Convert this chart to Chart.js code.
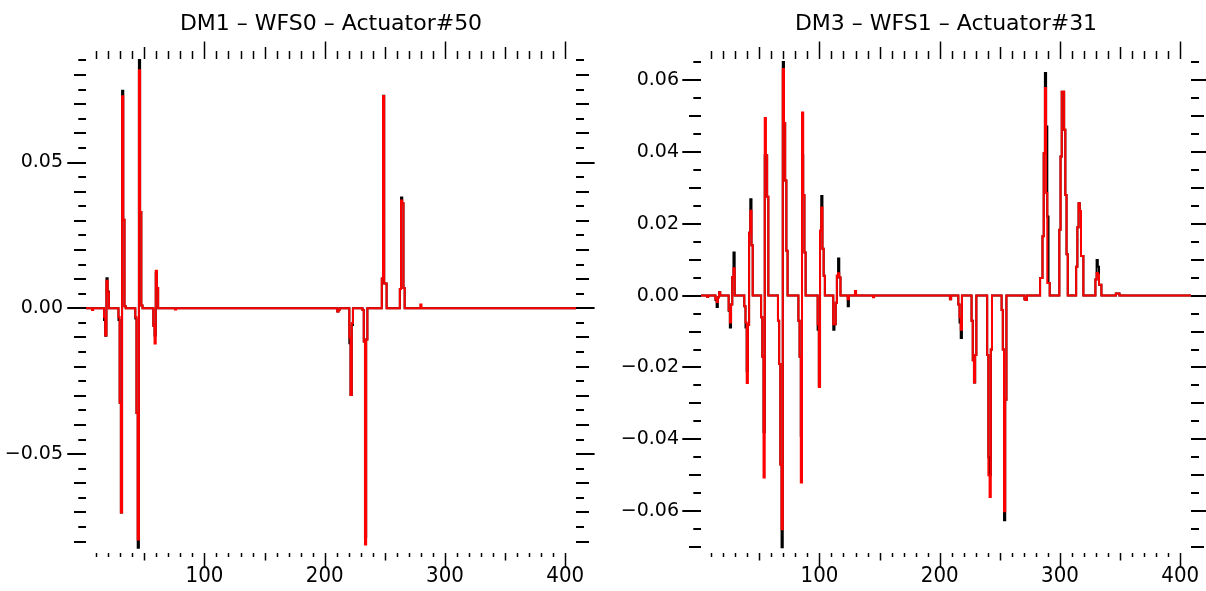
<!DOCTYPE html>
<html>
<head>
<meta charset="utf-8">
<script src="https://cdn.jsdelivr.net/npm/chart.js@4.4.1/dist/chart.umd.min.js"></script>
<style>
  html, body { margin: 0; padding: 0; background: #fff; }
  .panel { position: absolute; top: 0; width: 603px; height: 591px; }
</style>
</head>
<body>
<div class="panel" style="left:0"><canvas id="dm1" width="603" height="591"></canvas></div>
<div class="panel" style="left:603px"><canvas id="dm3" width="603" height="591"></canvas></div>
<script>
// actuator index range on the x axis
const X_FIRST = 1;
const X_LAST = 409;
const xLabelTicks = [100, 200, 300, 400];

// DM1 - WFS0 - Actuator#50 : samples that differ from zero
const dm1Index = [7, 17, 18, 19, 20, 29, 30, 31, 32, 33, 34, 43, 44, 45, 46, 47, 48, 58, 59, 60, 61, 76,
  211, 212, 221, 222, 223, 232, 233, 234, 235, 248, 249, 250, 251, 263, 264, 265, 266, 280];
const dm1Black = [0, -0.004, -0.0094, 0.0103, 0.0058, -0.004, -0.0324, -0.070, 0.0746, 0.0304, 0.0007,
  -0.0035, -0.0359, -0.0821, 0.0853, 0.0330, 0.0010, -0.006, -0.0093, 0.0122, 0.0070, 0,
  -0.0011, -0.0005, -0.012, -0.0297, -0.0057, -0.0006, -0.0114, -0.0784, -0.0107,
  0.0102, 0.0729, 0.0085, 0.0085, 0.0066, 0.0380, 0.0360, 0.0070, 0];
const dm1Red = [-0.0006, -0.003, -0.0093, 0.0095, 0.0054, -0.003, -0.0324, -0.070, 0.0727, 0.0304, 0.0007,
  -0.003, -0.0359, -0.0793, 0.0816, 0.0330, 0.0010, -0.006, -0.0121, 0.0129, 0.0070, -0.0004,
  -0.0011, -0.0005, -0.010, -0.0297, -0.0050, -0.0006, -0.0114, -0.0810, -0.0107,
  0.0102, 0.0728, 0.0085, 0.0085, 0.0066, 0.0370, 0.0360, 0.0070, 0.0013];
const dm1YRange = [-0.0839, 0.0855];
const dm1YLabels = [-0.05, 0, 0.05];

// DM3 - WFS1 - Actuator#31 : samples that differ from zero
const dm3Index = [7, 14, 15, 16, 17, 25, 26, 27, 28, 29, 38, 39, 40, 41, 42, 43, 44,
  52, 53, 54, 55, 56, 57, 66, 67, 68, 69, 70, 71, 72, 73,
  83, 84, 85, 86, 87, 88, 99, 100, 101, 102, 103, 104, 112, 113, 114, 115, 116, 117,
  124, 130, 145, 209, 216, 217, 218, 227, 228, 229, 230, 240, 241, 242, 243,
  252, 253, 254, 255, 271, 272,
  284, 285, 286, 287, 288, 289, 290, 291, 300, 301, 302, 303, 304, 305, 306,
  314, 315, 316, 317, 318, 319, 330, 331, 332, 333, 334, 347, 348, 349];
const dm3Black = [-0.0003, -0.0012, -0.0032, -0.0005, 0.0009, -0.0042, -0.0089, -0.0025, 0.0052, 0.0120,
  -0.003, -0.0089, -0.0210, -0.0081, 0.0175, 0.0268, 0.0140,
  -0.006, -0.017, -0.038, 0.039, 0.039, 0.0275, -0.007, -0.019, -0.047, -0.070, 0.065, 0.048, 0.032, 0.0125,
  -0.007, -0.017, -0.039, 0.039, 0.028, 0.012, -0.0095, -0.025, 0.018, 0.0277, 0.013, 0.0055,
  -0.0095, -0.008, -0.002, 0.0055, 0.0103, 0.005,
  -0.003, 0, 0, -0.001, -0.0025, -0.0075, -0.0118, -0.007, -0.018, -0.0242, -0.0165,
  -0.0165, -0.045, -0.050, -0.015, -0.004, -0.015, -0.0625, -0.029, -0.001, -0.0012,
  0.0049, 0.0049, 0.0165, 0.0396, 0.0619, 0.047, 0.022, 0.0035,
  0.0183, 0.0387, 0.0567, 0.0567, 0.0461, 0.028, 0.0115,
  0.008, 0.019, 0.0257, 0.0235, 0.011, 0.011, 0.0045, 0.0099, 0.008, 0.003, 0.003, 0.0006, 0.0006, 0.0006];
const dm3Red = [-0.0003, -0.001, -0.0018, -0.0005, 0.0009, -0.004, -0.0075, -0.0025, 0.0052, 0.0076,
  -0.003, -0.0075, -0.0243, -0.0081, 0.0175, 0.0236, 0.0140,
  -0.006, -0.017, -0.0506, 0.0494, 0.039, 0.0275, -0.007, -0.019, -0.047, -0.065, 0.063, 0.048, 0.032, 0.0125,
  -0.007, -0.017, -0.052, 0.0509, 0.028, 0.012, -0.008, -0.0254, 0.018, 0.0245, 0.013, 0.0055,
  -0.008, -0.008, -0.002, 0.0055, 0.0062, 0.005,
  -0.001, 0.0013, -0.0005, -0.001, -0.0025, -0.006, -0.0095, -0.007, -0.018, -0.0242, -0.0165,
  -0.0165, -0.050, -0.056, -0.015, -0.004, -0.015, -0.060, -0.029, -0.001, -0.0012,
  0.0049, 0.0049, 0.0165, 0.0396, 0.0577, 0.0285, 0.0035, 0.0035,
  0.0183, 0.0387, 0.0567, 0.0567, 0.0461, 0.028, 0.0115,
  0.008, 0.019, 0.0257, 0.0235, 0.011, 0.011, 0.0045, 0.0063, 0.0058, 0.003, 0.003, 0.0006, 0.0006, 0.0006];
const dm3YRange = [-0.0716, 0.0658];
const dm3YLabels = [-0.06, -0.04, -0.02, 0, 0.02, 0.04, 0.06];

// zeros everywhere except the listed actuator samples
function toPoints(index, values) {
  const pts = [];
  for (let i = X_FIRST; i <= X_LAST; i++) pts.push({ x: i, y: 0 });
  index.forEach((k, j) => { pts[k - X_FIRST].y = values[j]; });
  return pts;
}

function fmt(v) {
  if (Math.abs(v) < 1e-9) return '0.00';
  return (v < 0 ? '\u2212' : '') + Math.abs(v).toFixed(2);
}

// IDL-style outward ticks on all four sides, no axis lines
const outwardTicks = {
  id: 'outwardTicks',
  afterDraw(chart, args, o) {
    const { ctx, chartArea: a, scales: { x, y } } = chart;
    ctx.save();
    ctx.strokeStyle = '#000';
    const seg = (x0, y0, x1, y1) => { ctx.beginPath(); ctx.moveTo(x0, y0); ctx.lineTo(x1, y1); ctx.stroke(); };

    ctx.lineWidth = 1.5;
    for (let k = 1; k * 10 <= x.max; k++) {
      const px = Math.round(x.getPixelForValue(k * 10)) + 0.5;
      const lvl = k % 10 === 0 ? 2 : (k % 5 === 0 ? 1 : 0);
      seg(px, a.bottom, px, a.bottom + o.bottom[lvl]);
      seg(px, a.top, px, a.top - o.top[lvl]);
    }

    ctx.lineWidth = 2;
    const k0 = Math.ceil(y.min / 0.005 - 1e-6);
    const k1 = Math.floor(y.max / 0.005 + 1e-6);
    for (let k = k0; k <= k1; k++) {
      const py = Math.round(y.getPixelForValue(k * 0.005));
      const lvl = k % o.labelEvery === 0 ? 2 : (k % 2 === 0 ? 1 : 0);
      seg(a.left, py, a.left - o.left[lvl], py);
      seg(a.right, py, a.right + o.right[lvl], py);
    }
    ctx.restore();
  }
};

function makePanel(id, title, index, black, red, yRange, yLabels, box) {
  return new Chart(document.getElementById(id), {
    type: 'line',
    data: {
      datasets: [
        { data: toPoints(index, red), borderColor: '#ff0000', borderWidth: 2, stepped: 'middle', pointRadius: 0 },
        { data: toPoints(index, black), borderColor: '#000000', borderWidth: 2, stepped: 'middle', pointRadius: 0 }
      ]
    },
    options: {
      responsive: false,
      animation: false,
      events: [],
      layout: { padding: { left: 0, right: box.right, top: 0, bottom: 0 } },
      plugins: {
        legend: { display: false },
        tooltip: { enabled: false },
        title: {
          display: true,
          text: title,
          fullSize: false,
          color: '#000',
          font: { family: 'DejaVu Sans', size: 22, weight: 'normal' },
          padding: { top: 11, bottom: 21.6 }
        },
        outwardTicks: box.ticks
      },
      scales: {
        x: {
          type: 'linear',
          min: 1.5,
          max: X_LAST,
          grid: { display: false, drawTicks: false },
          border: { display: false },
          afterBuildTicks: s => { s.ticks = xLabelTicks.map(v => ({ value: v })); },
          // keep the plot box fixed: the "400" label may hang over the right padding
          afterFit: s => { s.height = 38; s.paddingLeft = 0; s.paddingRight = 0; },
          ticks: {
            color: '#000',
            padding: 10,
            maxRotation: 0,
            font: { family: "'Liberation Sans Narrow', 'DejaVu Sans Condensed', sans-serif", size: 22 },
            callback: v => String(v)
          }
        },
        y: {
          type: 'linear',
          min: yRange[0],
          max: yRange[1],
          grid: { display: false, drawTicks: false },
          border: { display: false },
          afterBuildTicks: s => { s.ticks = yLabels.map(v => ({ value: v })); },
          afterFit: s => { s.width = box.left; s.paddingTop = 0; s.paddingBottom = 0; },
          ticks: {
            color: '#000',
            padding: box.labelPad,
            font: { family: 'DejaVu Sans', size: 19 },
            callback: v => fmt(v)
          }
        }
      }
    },
    plugins: [outwardTicks]
  });
}

makePanel('dm1', 'DM1 \u2013 WFS0 \u2013 Actuator#50', dm1Index, dm1Black, dm1Red, dm1YRange, dm1YLabels, {
  left: 86, right: 27, labelPad: 23,
  ticks: { labelEvery: 10, top: [8, 12, 17.5], bottom: [4, 7.5, 14], left: [7.7, 12, 18.7], right: [8, 13, 18.6] }
});
makePanel('dm3', 'DM3 \u2013 WFS1 \u2013 Actuator#31', dm3Index, dm3Black, dm3Red, dm3YRange, dm3YLabels, {
  left: 98, right: 15, labelPad: 22,
  ticks: { labelEvery: 4, top: [8, 12, 17.5], bottom: [4, 7.5, 14], left: [7.7, 12, 18.7], right: [8, 13, 18.6] }
});
</script>
</body>
</html>
